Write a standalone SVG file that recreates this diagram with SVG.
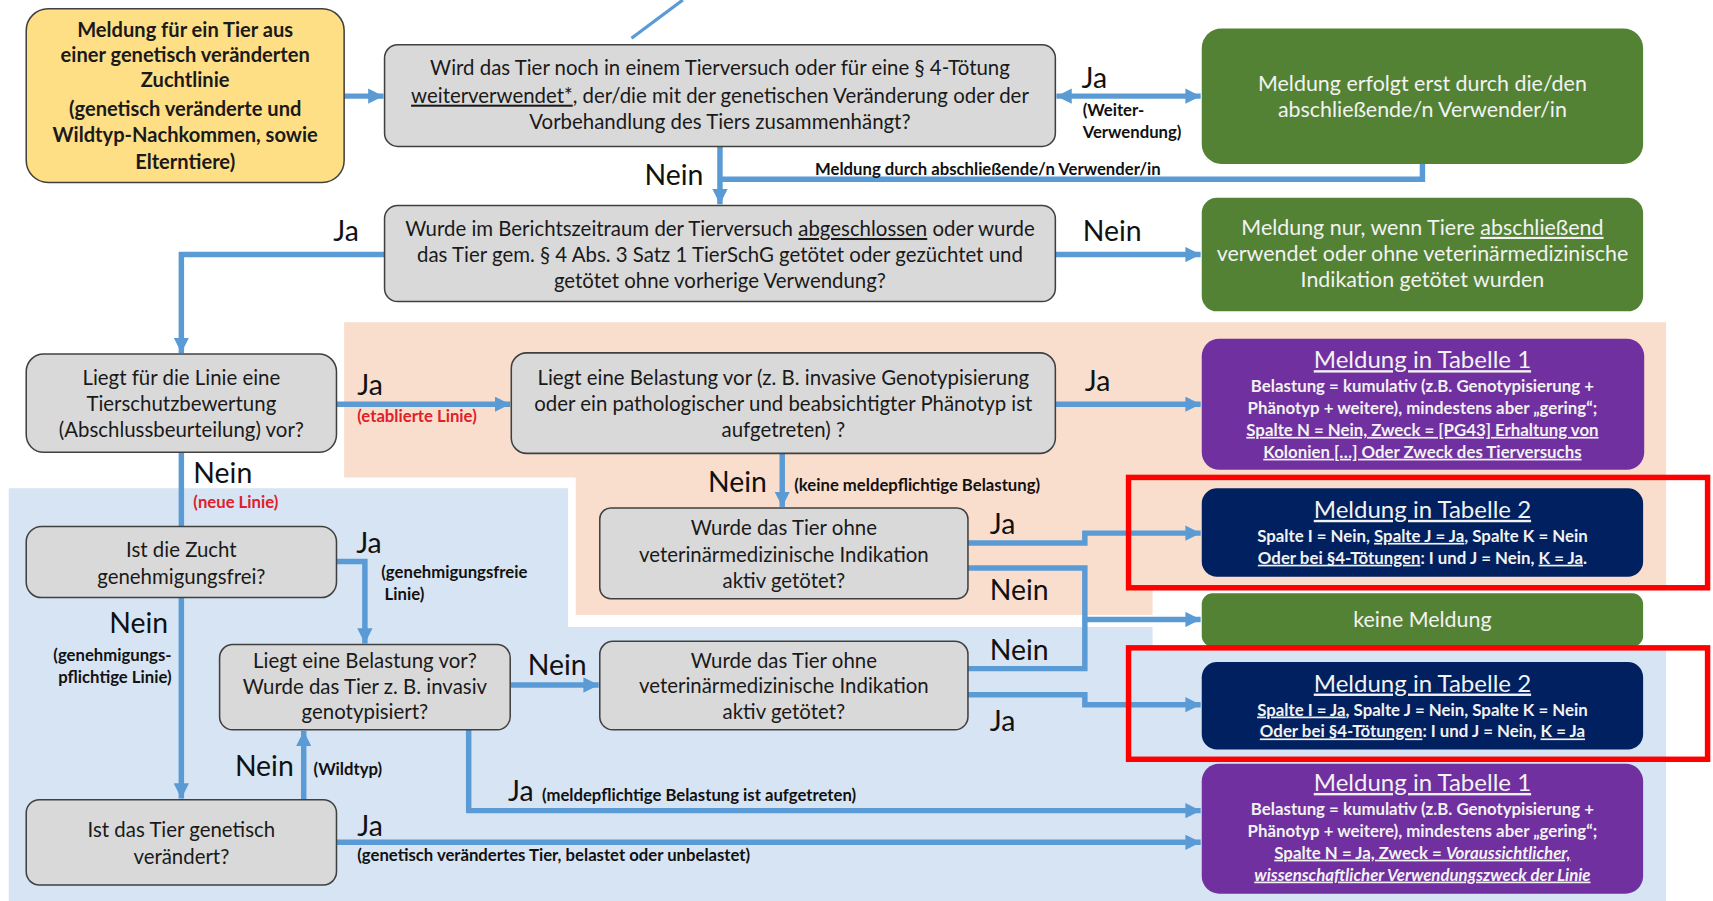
<svg xmlns="http://www.w3.org/2000/svg" width="1713" height="901" viewBox="0 0 1713 901">
<defs>
<style>
.box{fill:#D9D9D9;stroke:#404040;stroke-width:1.4}
.t{font-family:Lato,"Open Sans","Noto Sans",sans-serif;font-size:18.7px;fill:#1a1a1a;text-anchor:middle}
.tb{font-family:Lato,"Open Sans","Noto Sans",sans-serif;font-size:18.4px;font-weight:bold;fill:#1a1a1a;text-anchor:middle}
.lab{font-family:Lato,"Open Sans","Noto Sans",sans-serif;font-size:26px;fill:#111}
.sm{font-family:Lato,"Open Sans","Noto Sans",sans-serif;font-size:15.3px;font-weight:bold;fill:#111}
.red{fill:#E0202A}
.w{font-family:Lato,"Open Sans","Noto Sans",sans-serif;fill:#F2F2F2;text-anchor:middle}
.wt{font-size:22px}
.wb{font-size:15.4px;font-weight:bold}
.gt{font-size:19.6px}
.c{fill:none;stroke:#5B9BD5;stroke-width:5}
.u{text-decoration:underline}
</style>
<marker id="ah" viewBox="0 0 10 10" refX="10" refY="5" markerWidth="14" markerHeight="14" markerUnits="userSpaceOnUse" orient="auto-start-reverse">
<path d="M0,0 L10,5 L0,10 z" fill="#5B9BD5"/>
</marker>
</defs>
<g transform="scale(1.0925)">
<g id="backgrounds">
<polygon points="315,295 1525,295 1525,538 1055,538 1055,563 527,563 527,437 315,437" fill="#F9DECD"/>
<polygon points="8,447 520,447 520,574 1055,574 1055,594 1525,594 1525,825 8,825" fill="#D6E4F3"/>
</g>
<g id="connectors">
<path class="c" d="M578,35 L625,0" style="stroke-width:3"/>
<path class="c" d="M315,88 H351" marker-end="url(#ah)"/>
<path class="c" d="M967,88 H1099" marker-start="url(#ah)" marker-end="url(#ah)"/>
<path class="c" d="M1302,150 V164 H659"/>
<path class="c" d="M659,134 V187" marker-end="url(#ah)"/>
<path class="c" d="M966,233 H1099" marker-end="url(#ah)"/>
<path class="c" d="M352,233 H166 V323" marker-end="url(#ah)"/>
<path class="c" d="M308,370 H467" marker-end="url(#ah)"/>
<path class="c" d="M966,370 H1099" marker-end="url(#ah)"/>
<path class="c" d="M716,415 V464" marker-end="url(#ah)"/>
<path class="c" d="M886,497 H993 V488 H1099" marker-end="url(#ah)"/>
<path class="c" d="M886,520 H993 V612 H886"/>
<path class="c" d="M993,567 H1099" marker-end="url(#ah)"/>
<path class="c" d="M886,636 H993 V645 H1099" marker-end="url(#ah)"/>
<path class="c" d="M166,414 V482"/>
<path class="c" d="M308,514 H334 V589" marker-end="url(#ah)"/>
<path class="c" d="M166,547 V731" marker-end="url(#ah)"/>
<path class="c" d="M467,627 H548" marker-end="url(#ah)"/>
<path class="c" d="M429,668 V742 H1099" marker-end="url(#ah)"/>
<path class="c" d="M278,732 V669" marker-end="url(#ah)"/>
<path class="c" d="M308,771 H1099" marker-end="url(#ah)"/>
</g>
<g id="labels">
<text class="lab" x="990" y="81">Ja</text>
<text class="sm" x="991" y="106">(Weiter-</text>
<text class="sm" x="991" y="126">Verwendung)</text>
<text class="lab" x="590" y="169">Nein</text>
<text class="sm" x="746" y="160">Meldung durch abschließende/n Verwender/in</text>
<text class="lab" x="305" y="221">Ja</text>
<text class="lab" x="991" y="221">Nein</text>
<text class="lab" x="327" y="362">Ja</text>
<text class="sm red" x="327" y="386">(etablierte Linie)</text>
<text class="lab" x="993" y="358">Ja</text>
<text class="lab" x="648" y="450">Nein</text>
<text class="sm" x="727" y="449">(keine meldepflichtige Belastung)</text>
<text class="lab" x="177" y="442">Nein</text>
<text class="sm red" x="177" y="465">(neue Linie)</text>
<text class="lab" x="906" y="489">Ja</text>
<text class="lab" x="906" y="549">Nein</text>
<text class="lab" x="906" y="604">Nein</text>
<text class="lab" x="906" y="669">Ja</text>
<text class="lab" x="326" y="506">Ja</text>
<text class="sm" x="349" y="529">(genehmigungsfreie</text>
<text class="sm" x="352" y="549">Linie)</text>
<text class="lab" x="100" y="579">Nein</text>
<text class="sm" x="157" y="605" text-anchor="end">(genehmigungs-</text>
<text class="sm" x="157" y="625" text-anchor="end">pflichtige Linie)</text>
<text class="lab" x="483" y="618">Nein</text>
<text class="lab" x="215" y="710">Nein</text>
<text class="sm" x="287" y="709">(Wildtyp)</text>
<text class="lab" x="465" y="733">Ja</text>
<text class="sm" x="496" y="733">(meldepflichtige Belastung ist aufgetreten)</text>
<text class="lab" x="327" y="765">Ja</text>
<text class="sm" x="327" y="788">(genetisch verändertes Tier, belastet oder unbelastet)</text>
</g>
<g id="start">
<rect x="24" y="8" width="291" height="159" rx="20" fill="#FFDF85" stroke="#404040" stroke-width="1.4"/>
<text class="tb" x="169.5" y="34">Meldung für ein Tier aus</text>
<text class="tb" x="169.5" y="57">einer genetisch veränderten</text>
<text class="tb" x="169.5" y="80">Zuchtlinie</text>
<text class="tb" x="169.5" y="106">(genetisch veränderte und</text>
<text class="tb" x="169.5" y="130">Wildtyp-Nachkommen, sowie</text>
<text class="tb" x="169.5" y="155">Elterntiere)</text>
</g>
<g id="q-weiterverwendet">
<rect class="box" x="352" y="41" width="614" height="93" rx="12"/>
<text class="t" x="659" y="69">Wird das Tier noch in einem Tierversuch oder für eine § 4-Tötung</text>
<text class="t" x="659" y="94"><tspan class="u">weiterverwendet*</tspan>, der/die mit der genetischen Veränderung oder der</text>
<text class="t" x="659" y="118">Vorbehandlung des Tiers zusammenhängt?</text>
</g>
<g id="r-verwender">
<rect x="1100" y="26" width="404" height="124" rx="18" fill="#548235"/>
<text class="w gt" x="1302" y="83">Meldung erfolgt erst durch die/den</text>
<text class="w gt" x="1302" y="107">abschließende/n Verwender/in</text>
</g>
<g id="q-abgeschlossen">
<rect class="box" x="352" y="188" width="614" height="88" rx="12"/>
<text class="t" x="659" y="216">Wurde im Berichtszeitraum der Tierversuch <tspan class="u">abgeschlossen</tspan> oder wurde</text>
<text class="t" x="659" y="240">das Tier gem. § 4 Abs. 3 Satz 1 TierSchG getötet oder gezüchtet und</text>
<text class="t" x="659" y="264">getötet ohne vorherige Verwendung?</text>
</g>
<g id="r-nur-wenn">
<rect x="1100" y="181" width="404" height="104" rx="14" fill="#548235"/>
<text class="w gt" x="1302" y="215">Meldung nur, wenn Tiere <tspan class="u">abschließend</tspan></text>
<text class="w gt" x="1302" y="239">verwendet oder ohne veterinärmedizinische</text>
<text class="w gt" x="1302" y="263">Indikation getötet wurden</text>
</g>
<g id="q-tierschutzbewertung">
<rect class="box" x="24" y="324" width="284" height="90" rx="16"/>
<text class="t" x="166" y="352">Liegt für die Linie eine</text>
<text class="t" x="166" y="376">Tierschutzbewertung</text>
<text class="t" x="166" y="400">(Abschlussbeurteilung) vor?</text>
</g>
<g id="q-belastung-etabliert">
<rect class="box" x="468" y="323" width="498" height="92" rx="14"/>
<text class="t" x="717" y="352">Liegt eine Belastung vor (z. B. invasive Genotypisierung</text>
<text class="t" x="717" y="376">oder ein pathologischer und beabsichtigter Phänotyp ist</text>
<text class="t" x="717" y="400">aufgetreten) ?</text>
</g>
<g id="r-tabelle1-a">
<rect x="1100" y="310" width="405" height="120" rx="16" fill="#7030A0"/>
<text class="w wt" x="1302" y="337"><tspan class="u">Meldung in Tabelle 1</tspan></text>
<text class="w wb" x="1302" y="359">Belastung = kumulativ (z.B. Genotypisierung +</text>
<text class="w wb" x="1302" y="379">Phänotyp + weitere), mindestens aber „gering“;</text>
<text class="w wb u" x="1302" y="399">Spalte N = Nein, Zweck = [PG43] Erhaltung von</text>
<text class="w wb u" x="1302" y="419">Kolonien […] Oder Zweck des Tierversuchs</text>
</g>
<g id="q-getoetet-a">
<rect class="box" x="549" y="465" width="337" height="83" rx="10"/>
<text class="t" x="717.5" y="490">Wurde das Tier ohne</text>
<text class="t" x="717.5" y="514">veterinärmedizinische Indikation</text>
<text class="t" x="717.5" y="538">aktiv getötet?</text>
</g>
<g id="r-tabelle2-a">
<rect x="1033" y="437" width="530" height="101" fill="none" stroke="#FF0000" stroke-width="5"/>
<rect x="1100" y="447" width="404" height="81" rx="14" fill="#002060"/>
<text class="w wt" x="1302" y="474"><tspan class="u">Meldung in Tabelle 2</tspan></text>
<text class="w wb" x="1302" y="496">Spalte I = Nein, <tspan class="u">Spalte J = Ja</tspan>, Spalte K = Nein</text>
<text class="w wb" x="1302" y="516"><tspan class="u">Oder bei §4-Tötungen</tspan>: I und J = Nein, <tspan class="u">K = Ja</tspan>.</text>
</g>
<g id="r-keine">
<rect x="1100" y="543" width="404" height="49" rx="10" fill="#548235"/>
<text class="w gt" x="1302" y="574">keine Meldung</text>
</g>
<g id="r-tabelle2-b">
<rect x="1033" y="593" width="530" height="102" fill="none" stroke="#FF0000" stroke-width="5"/>
<rect x="1100" y="606" width="404" height="80" rx="14" fill="#002060"/>
<text class="w wt" x="1302" y="633"><tspan class="u">Meldung in Tabelle 2</tspan></text>
<text class="w wb" x="1302" y="655"><tspan class="u">Spalte I = Ja</tspan>, Spalte J = Nein, Spalte K = Nein</text>
<text class="w wb" x="1302" y="675"><tspan class="u">Oder bei §4-Tötungen</tspan>: I und J = Nein, <tspan class="u">K = Ja</tspan></text>
</g>
<g id="r-tabelle1-b">
<rect x="1100" y="699" width="404" height="119" rx="16" fill="#7030A0"/>
<text class="w wt" x="1302" y="724"><tspan class="u">Meldung in Tabelle 1</tspan></text>
<text class="w wb" x="1302" y="746">Belastung = kumulativ (z.B. Genotypisierung +</text>
<text class="w wb" x="1302" y="766">Phänotyp + weitere), mindestens aber „gering“;</text>
<text class="w wb u" x="1302" y="786">Spalte N = Ja, Zweck = <tspan font-style="italic">Voraussichtlicher,</tspan></text>
<text class="w wb u" x="1302" y="806" font-style="italic">wissenschaftlicher Verwendungszweck der Linie</text>
</g>
<g id="q-zucht">
<rect class="box" x="24" y="482" width="284" height="65" rx="14"/>
<text class="t" x="166" y="510">Ist die Zucht</text>
<text class="t" x="166" y="535">genehmigungsfrei?</text>
</g>
<g id="q-belastung-neu">
<rect class="box" x="201" y="590" width="266" height="78" rx="12"/>
<text class="t" x="334" y="611">Liegt eine Belastung vor?</text>
<text class="t" x="334" y="635">Wurde das Tier z. B. invasiv</text>
<text class="t" x="334" y="658">genotypisiert?</text>
</g>
<g id="q-getoetet-b">
<rect class="box" x="549" y="587" width="337" height="81" rx="12"/>
<text class="t" x="717.5" y="611">Wurde das Tier ohne</text>
<text class="t" x="717.5" y="634">veterinärmedizinische Indikation</text>
<text class="t" x="717.5" y="658">aktiv getötet?</text>
</g>
<g id="q-genetisch">
<rect class="box" x="24" y="732" width="284" height="78" rx="12"/>
<text class="t" x="166" y="766">Ist das Tier genetisch</text>
<text class="t" x="166" y="791">verändert?</text>
</g>
</g>
</svg>
